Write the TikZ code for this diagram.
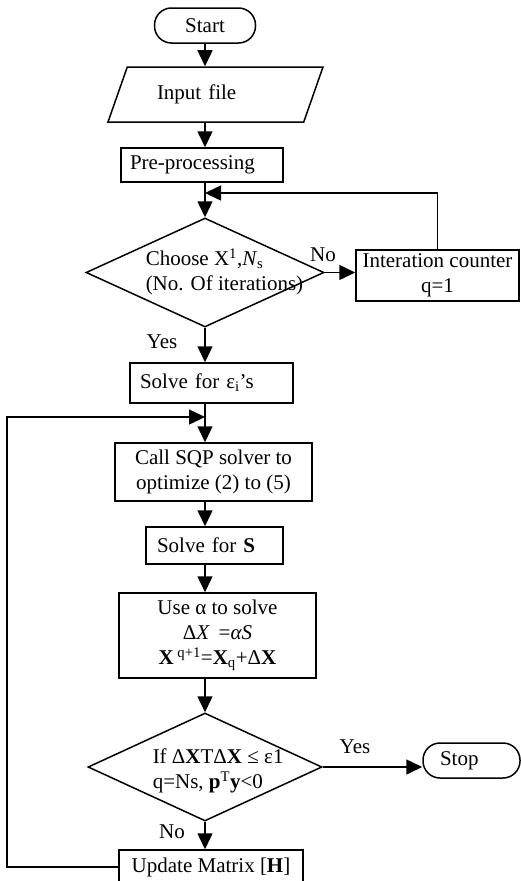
\documentclass[tikz,border=0pt]{standalone}
\usepackage{fontspec}
\setmainfont{Liberation Serif}
\usetikzlibrary{shapes.geometric,arrows.meta}

\tikzset{
  chart/.style={font=\fontsize{21}{25}\selectfont},
  proc/.style={draw, chart, rectangle, inner sep=0pt, align=center},
  term/.style={draw, chart, rectangle, rounded corners=17pt, inner sep=0pt},
  io/.style={draw, chart, trapezium, trapezium left angle=45, trapezium right angle=135,
    trapezium stretches body, inner sep=0pt},
  decision/.style={draw, diamond, inner sep=0pt},
  arr/.style={-{Triangle[length=16pt,width=15pt]}}
}

\begin{document}
\begin{tikzpicture}[x=1pt, y=-1pt, line width=1.5pt]
\useasboundingbox (0,0) rectangle (521,881);

% Draw the boxes of the chart
\node[term, minimum width=101, minimum height=35] (start) at (205,25.5) {Start};
\node[io, minimum width=215, minimum height=55, text width=117, align=left] (input) at (215.5,94.5) {Input file};
\node[proc, minimum width=162, minimum height=34, text width=144, align=left] (pre) at (202,165) {Pre-processing};
\node[decision, minimum width=238, minimum height=109] (dec1) at (205,272.5) {};
\node[chart, anchor=west, align=left, inner sep=0pt] (dec1txt) at (145,272)
  {Choose X\textsuperscript{1},\textit{N}\textsubscript{s}\\(No. Of iterations)};
\node[proc, minimum width=163, minimum height=51] (cnt) at (437.5,275.5) {Interation counter\\q=1};
\node[proc, minimum width=163, minimum height=40, text width=143, align=left] (sol) at (211.5,383) {Solve for ε\textsubscript{i}’s};
\node[proc, minimum width=197, minimum height=58] (sqp) at (213.5,472) {Call SQP solver to\\optimize (2) to (5)};
\node[proc, minimum width=137, minimum height=37, text width=115, align=left] (sols) at (214.5,545.5) {Solve for \textbf{S}};
\node[proc, minimum width=197, minimum height=85] (use) at (217.5,635.5)
  {Use α to solve\\Δ\textit{X} \,=\textit{αS}\\\textbf{X}\textsuperscript{ q+1}=\textbf{X}\textsubscript{q}+Δ\textbf{X}};
\node[decision, minimum width=234, minimum height=108] (dec2) at (205,767) {};
\node[chart, anchor=west, align=left, inner sep=0pt] (dec2txt) at (152,771)
  {If Δ\textbf{X}TΔ\textbf{X} ≤ ε1\\q=Ns, \textbf{p}\textsuperscript{T}\textbf{y}<0};
\node[term, minimum width=97, minimum height=35, text width=63, align=left] (stop) at (471.5,760.5) {Stop};
\node[proc, minimum width=184, minimum height=34] (upd) at (211,867) {Update Matrix [\textbf{H}]};

% Yes / No labels
\node[chart] (no1) at (323,255) {No};
\node[chart] (yes1) at (162,342) {Yes};
\node[chart] (yes2) at (355,747) {Yes};
\node[chart] (no2) at (172,832) {No};

% Loop points
\coordinate (loopA) at (205,193);
\coordinate (loopL) at (7,417);
\coordinate (loopB) at (205,417);

% Draw the connectors
\draw[arr] (start.south) -- (start |- input.north);
\draw[arr] (input.south -| start) -- (pre.north -| start);
\draw[arr] (pre.south -| dec1) -- (dec1.north);
\draw[arr] (dec1.east) -- (cnt.west |- dec1.east);
\draw[arr] (cnt.north) |- (loopA);
\draw[arr] (dec1.south) -- (sol.north -| dec1);
\draw[arr] (sol.south -| dec1) -- (sqp.north -| dec1);
\draw[arr] (sqp.south -| dec1) -- (sols.north -| dec1);
\draw[arr] (sols.south -| dec1) -- (use.north -| dec1);
\draw[arr] (use.south -| dec1) -- (dec2.north);
\draw[arr] (dec2.east) -- (dec2.east -| stop.west);
\draw[arr] (dec2.south) -- (upd.north -| dec2);
\draw[arr] (upd.west) -| (loopL) -- (loopB);
\end{tikzpicture}
\end{document}
